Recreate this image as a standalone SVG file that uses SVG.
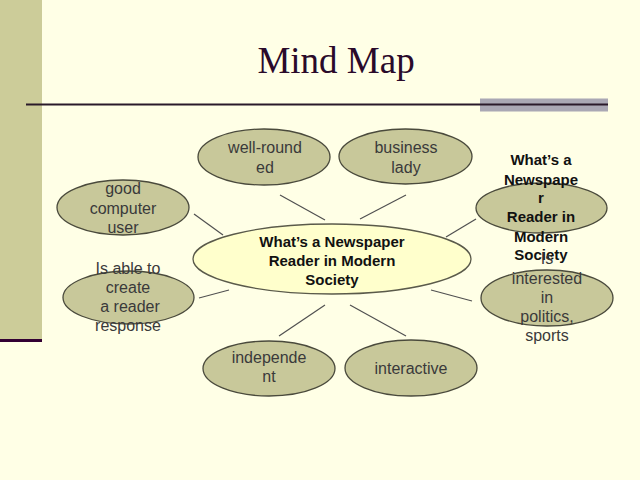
<svg xmlns="http://www.w3.org/2000/svg" width="640" height="480" viewBox="0 0 640 480">
<style>
.node ellipse{fill:#C8C89A;stroke:#4a4a3c;stroke-width:1.3}
.center ellipse{fill:#FFFFCC;stroke:#5a5a4a;stroke-width:1.3}
.t{font-family:"Liberation Sans",Arial,sans-serif;font-size:16px;fill:#3a3a3a;text-anchor:middle}
.b{font-family:"Liberation Sans",Arial,sans-serif;font-size:15px;font-weight:bold;fill:#111;text-anchor:middle}
#connectors line{stroke:#505050;stroke-width:1.2}
</style>
<rect x="0" y="0" width="640" height="480" fill="#FFFFE6"/>
<rect x="0" y="0" width="42" height="340" fill="#CCCC99"/>
<rect x="0" y="339" width="42" height="3" fill="#330033"/>
<text x="336" y="73" font-family="'Liberation Serif','Times New Roman',serif" font-size="37" fill="#2a0a2a" text-anchor="middle">Mind Map</text>
<rect x="480" y="98.5" width="128" height="13" fill="#AAA8B4"/>
<line x1="26" y1="104.5" x2="608" y2="104.5" stroke="#2a1a2a" stroke-width="2"/>
<g id="connectors">
<line x1="280" y1="195" x2="325" y2="220"/>
<line x1="406" y1="195" x2="360" y2="219"/>
<line x1="194" y1="214" x2="223" y2="235"/>
<line x1="476" y1="219" x2="446" y2="237"/>
<line x1="199" y1="298" x2="229" y2="290"/>
<line x1="325" y1="305" x2="279" y2="336"/>
<line x1="350" y1="305" x2="406" y2="336"/>
<line x1="431" y1="290" x2="472" y2="301"/>
</g>
<g id="center" class="center">
<ellipse cx="332" cy="259" rx="139" ry="35"/>
<text class="b" x="332" y="247">What’s a Newspaper</text>
<text class="b" x="332" y="266">Reader in Modern</text>
<text class="b" x="332" y="285">Society</text>
</g>
<g id="well-rounded" class="node">
<ellipse cx="264" cy="157" rx="66" ry="28"/>
<text class="t" x="265" y="153">well-round</text>
<text class="t" x="265" y="173">ed</text>
</g>
<g id="business-lady" class="node">
<ellipse cx="405.5" cy="156.5" rx="66.5" ry="27.5"/>
<text class="t" x="406" y="153">business</text>
<text class="t" x="406" y="173">lady</text>
</g>
<g id="good-computer-user" class="node">
<ellipse cx="123" cy="207.5" rx="66" ry="27.5"/>
<text class="t" x="123" y="194">good</text>
<text class="t" x="123" y="214">computer</text>
<text class="t" x="123" y="233">user</text>
</g>
<g id="newspaper-reader" class="node">
<ellipse cx="541.5" cy="208" rx="65.5" ry="25"/>
<text class="b" x="541" y="165">What’s a</text>
<text class="b" x="541" y="185">Newspape</text>
<text class="b" x="541" y="203">r</text>
<text class="b" x="541" y="222">Reader in</text>
<text class="b" x="541" y="242">Modern</text>
<text class="b" x="541" y="260">Society</text>
</g>
<g id="reader-response" class="node">
<ellipse cx="128.5" cy="297.5" rx="65.5" ry="26.5"/>
<text class="t" x="128" y="274">Is able to</text>
<text class="t" x="128" y="293">create</text>
<text class="t" x="130" y="312">a reader</text>
<text class="t" x="128" y="331">response</text>
</g>
<g id="interested" class="node">
<ellipse cx="547" cy="298" rx="66" ry="28"/>
<text class="t" x="547" y="264">Is</text>
<text class="t" x="547" y="284">interested</text>
<text class="t" x="547" y="303">in</text>
<text class="t" x="547" y="322">politics,</text>
<text class="t" x="547" y="341">sports</text>
</g>
<g id="independent" class="node">
<ellipse cx="269" cy="368.5" rx="66" ry="27.5"/>
<text class="t" x="269" y="363">independe</text>
<text class="t" x="269" y="382">nt</text>
</g>
<g id="interactive" class="node">
<ellipse cx="411" cy="368" rx="66" ry="28"/>
<text class="t" x="411" y="374">interactive</text>
</g>
</svg>
